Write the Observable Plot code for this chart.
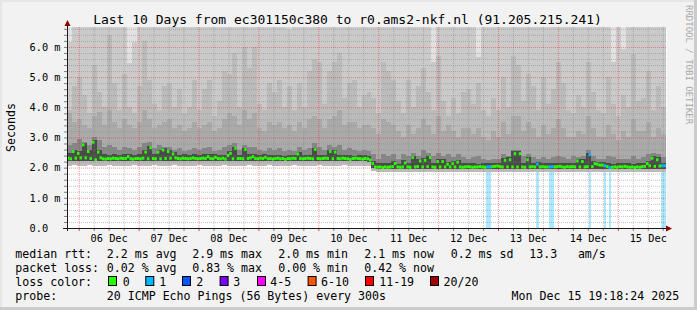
<!DOCTYPE html>
<html><head><meta charset="utf-8">
<script src="https://cdn.jsdelivr.net/npm/d3@7"></script>
<script src="https://cdn.jsdelivr.net/npm/@observablehq/plot@0.6"></script>
<style>
html,body{margin:0;padding:0;background:#f2f2f2;}
#wrap{position:relative;width:697px;height:310px;background:#f2f2f2;overflow:hidden;
 box-shadow: inset -3px -3px 0 #cbcbcb, inset 2px 2px 0 #e6e6e6;}
#wrap svg{position:absolute;left:0;top:0;}
</style></head><body><div id="wrap"></div>
<script>
// ---------- data ----------
const startTime = Date.UTC(2025, 11, 5, 19, 18, 24);   // left edge of the graph
const titleText = "Last 10 Days from ec301150c380 to r0.ams2-nkf.nl (91.205.215.241)";
// hourly median RTT (ms), 240 hours
const medianRtt = [
 2.33,2.31,2.55,2.33,2.49,2.34,2.77,2.34,2.55,2.32,
 2.86,2.28,2.53,2.34,2.31,2.30,2.32,2.31,2.33,2.32,
 2.31,2.33,2.32,2.32,2.38,2.31,2.30,2.32,2.32,2.31,
 2.33,2.53,2.31,2.68,2.32,2.31,2.53,2.31,2.60,2.32,
 2.55,2.33,2.47,2.34,2.32,2.31,2.33,2.32,2.31,2.32,
 2.34,2.32,2.31,2.32,2.33,2.32,2.38,2.32,2.31,2.36,
 2.32,2.31,2.33,2.30,2.42,2.49,2.31,2.66,2.32,2.32,
 2.31,2.62,2.32,2.34,2.38,2.32,2.31,2.33,2.32,2.36,
 2.31,2.32,2.30,2.32,2.33,2.31,2.32,2.29,2.32,2.31,
 2.33,2.32,2.47,2.32,2.31,2.32,2.33,2.32,2.31,2.62,
 2.32,2.31,2.32,2.33,2.32,2.55,2.31,2.53,2.32,2.31,
 2.33,2.32,2.31,2.29,2.32,2.33,2.32,2.31,2.30,2.32,
 2.31,2.27,2.15,2.04,2.03,2.04,2.02,2.04,2.03,2.04,
 2.05,2.15,2.04,2.03,2.04,2.17,2.04,2.03,2.35,2.04,
 2.05,2.24,2.04,2.26,2.05,2.35,2.04,2.03,2.22,2.04,
 2.22,2.04,2.13,2.04,2.15,2.04,2.20,2.04,2.03,2.04,
 2.05,2.04,2.03,2.04,2.04,2.05,2.04,2.03,2.04,2.04,
 2.05,2.06,2.07,2.05,2.04,2.26,2.04,2.28,2.04,2.48,
 2.04,2.48,2.04,2.03,2.28,2.04,2.05,2.04,2.13,2.04,
 2.05,2.04,2.04,2.04,2.05,2.04,2.05,2.06,2.04,2.03,
 2.05,2.04,2.05,2.04,2.24,2.04,2.22,2.04,2.05,2.45,
 2.05,2.15,2.13,2.10,2.10,2.08,2.05,2.02,2.03,2.04,
 2.03,2.05,2.04,2.06,2.04,2.03,2.04,2.02,2.04,2.03,
 2.05,2.06,2.15,2.08,2.33,2.06,2.28,2.07,2.08,2.08];
// hours with packet loss and number of lost pings
const lossHours  = [168,169,188,193,194,209,215,217,238,239];
const lossCounts = [1,1,1,1,1,1,1,1,1,1];
// smoke (2-hour columns, 120): ping distribution levels in ms
const smokeP95 = [
 6.16,7,7,7,7,7,7,7,7,7, 7,7,5.47,6.16,7,7,7,7,7,7, 7,7,7,7,7,7,7,7,7,7,
 7,7,7,7,7,7,7,7,7,7, 7,7,7,7,6.6,7,7,7,7,7, 7,7,7,7,7,7,7,7,7,7,
 7,7,7,7,7,7,7,7,7,7, 7,7,7,5.5,7,7,7,7,7,7, 7,7,5.68,7,7,7,7,7,7,7,
 7,7,7,7,7,7,7,7,7,7, 7,7,7,7,7,7,7,7,7,5.5, 7,5.93,7,7,7,7,7,7,7,7];
const smokeP90 = [
 3.9,4.7,5.0,4.4,3.8,5.4,4.5,4.0,6.4,4.8, 3.9,5.1,4.0,3.8,4.7,6.2,4.9,4.1,3.9,4.7,
 4.8,4.0,4.6,3.8,4.0,4.9,3.9,4.6,4.9,3.7, 4.2,5.2,5.1,5.8,4.0,6.0,5.3,6.0,4.1,3.9,
 4.8,4.5,4.9,4.0,4.7,3.9,4.8,4.0,5.2,5.6, 5.5,4.1,5.2,5.5,5.8,4.3,4.8,4.9,4.0,4.4,
 4.5,4.3,3.8,5.5,5.2,4.9,4.2,3.8,4.9,4.0, 4.7,5.3,4.5,3.9,5.7,4.2,3.7,4.3,3.8,4.5,
 4.6,4.1,4.8,3.9,3.7,4.3,3.9,5.0,4.0,5.7, 5.4,4.2,5.1,4.7,3.9,5.0,4.1,4.6,5.5,4.8,
 3.9,3.8,4.4,4.0,5.5,4.5,3.9,3.8,5.0,4.1, 3.7,4.4,4.0,5.75,4.2,4.3,5.2,3.9,4.7,4.0];
const smokeP75 = [
 3.8,3.5,3.6,3.4,3.3,3.7,3.85,3.4,3.9,3.5, 3.3,3.6,3.4,3.3,3.5,3.9,3.6,3.3,3.4,3.5,
 3.6,3.3,3.4,3.2,3.3,3.5,3.3,3.4,3.5,3.2, 3.3,3.6,3.8,3.7,3.4,3.9,3.6,3.8,3.3,3.2,
 3.5,3.4,3.5,3.3,3.4,3.2,3.5,3.3,3.6,3.7, 3.6,3.3,3.6,3.7,3.9,3.4,3.5,3.5,3.3,3.4,
 3.4,3.3,3.1,3.6,3.5,3.4,3.2,3.0,3.4,3.1, 3.3,3.6,3.4,3.1,3.7,3.2,3.4,3.2,3.0,3.3,
 3.3,3.1,3.3,3.0,2.9,3.2,3.0,3.5,3.1,3.7, 3.7,3.2,3.5,3.3,3.0,3.4,3.1,3.3,3.6,3.3,
 3.0,3.0,3.2,3.1,3.7,3.3,3.0,3.0,3.4,3.1, 2.9,3.2,3.0,3.6,3.2,3.2,3.5,3.0,3.3,3.1];
const smokeP65 = [
 2.75,2.8,2.95,2.85,2.75,3.0,2.9,2.7,2.75,2.7, 2.6,2.7,2.65,2.6,2.7,2.8,2.85,2.65,2.75,2.7,
 2.7,2.6,2.65,2.55,2.6,2.65,2.6,2.65,2.7,2.55, 2.6,2.7,2.75,2.8,2.6,2.75,2.7,2.7,2.6,2.55,
 2.65,2.6,2.65,2.55,2.6,2.55,2.7,2.6,2.65,2.8, 2.7,2.6,2.75,2.7,2.75,2.6,2.65,2.6,2.55,2.6,
 2.55,2.45,2.3,2.45,2.4,2.45,2.3,2.45,2.4,2.5, 2.4,2.6,2.5,2.4,2.5,2.4,2.45,2.35,2.45,2.35,
 2.3,2.35,2.4,2.3,2.25,2.3,2.3,2.45,2.4,2.6, 2.6,2.4,2.45,2.35,2.3,2.35,2.3,2.35,2.4,2.35,
 2.3,2.4,2.35,2.4,2.6,2.4,2.3,2.3,2.4,2.35, 2.3,2.3,2.3,2.4,2.3,2.35,2.45,2.5,2.45,2.35];
const smokeP55 = [
 2.48,2.60,2.55,2.80,2.60,2.90,2.58,2.45,2.42,2.44, 2.42,2.45,2.46,2.42,2.44,2.58,2.72,2.45,2.58,2.65,
 2.60,2.52,2.42,2.44,2.43,2.45,2.42,2.44,2.46,2.45, 2.43,2.42,2.54,2.70,2.43,2.66,2.44,2.46,2.43,2.45,
 2.42,2.41,2.43,2.40,2.42,2.43,2.52,2.42,2.41,2.66, 2.42,2.43,2.60,2.58,2.43,2.42,2.41,2.40,2.42,2.41,
 2.40,2.22,2.14,2.15,2.14,2.22,2.13,2.24,2.14,2.40, 2.30,2.32,2.40,2.15,2.28,2.28,2.20,2.22,2.26,2.14,
 2.15,2.14,2.13,2.15,2.14,2.16,2.17,2.32,2.34,2.54, 2.54,2.14,2.34,2.15,2.20,2.14,2.15,2.14,2.16,2.14,
 2.15,2.14,2.30,2.28,2.50,2.22,2.20,2.18,2.14,2.13, 2.14,2.15,2.14,2.13,2.14,2.15,2.22,2.40,2.34,2.16];
const smokeLow = [
 2.22,2.23,2.21,2.22,2.22,2.23,2.21,2.22,2.22,2.21, 2.22,2.22,2.23,2.21,2.22,2.22,2.21,2.22,2.23,2.22,
 2.21,2.22,2.22,2.22,2.21,2.22,2.23,2.22,2.21,2.22, 2.22,2.22,2.21,2.22,2.23,2.22,2.22,2.21,2.22,2.22,
 2.23,2.22,2.21,2.22,2.22,2.22,2.21,2.22,2.23,2.22, 2.22,2.21,2.22,2.22,2.23,2.22,2.21,2.22,2.22,2.21,
 2.20,2.00,1.95,1.96,1.95,1.94,1.96,1.95,1.95,1.96, 1.94,1.95,1.95,1.96,1.95,1.95,1.94,1.96,1.95,1.95,
 1.96,1.95,1.94,1.95,1.96,1.95,1.95,1.95,1.96,1.94, 1.95,1.95,1.96,1.95,1.94,1.95,1.95,1.96,1.95,1.95,
 1.94,1.96,1.95,1.95,1.96,1.95,1.94,1.95,1.95,1.96, 1.95,1.95,1.94,1.96,1.95,1.95,1.96,1.95,1.95,1.96];
const smokeMin = [
 2.07,2.08,2.06,2.07,2.08,2.07,2.06,2.07,2.08,2.07, 2.06,2.07,2.07,2.08,2.06,2.07,2.07,2.08,2.07,2.06,
 2.07,2.08,2.07,2.06,2.07,2.07,2.08,2.07,2.06,2.07, 2.07,2.08,2.07,2.06,2.07,2.07,2.08,2.07,2.06,2.07,
 2.08,2.07,2.06,2.07,2.07,2.08,2.07,2.06,2.07,2.07, 2.08,2.07,2.06,2.07,2.07,2.08,2.07,2.06,2.07,2.07,
 2.05,1.88,1.86,1.85,1.86,1.84,1.86,1.85,1.86,1.85, 1.84,1.86,1.85,1.86,1.85,1.84,1.86,1.85,1.86,1.85,
 1.84,1.86,1.85,1.86,1.85,1.84,1.86,1.85,1.86,1.85, 1.84,1.86,1.85,1.86,1.85,1.84,1.86,1.85,1.86,1.85,
 1.84,1.86,1.85,1.86,1.85,1.84,1.86,1.85,1.86,1.85, 1.84,1.86,1.85,1.86,1.85,1.84,1.86,1.85,1.86,1.85];
const yTicks = [0, 1, 2, 3, 4, 5, 6];
const yTickLabels = ["0.0\u00a0\u00a0", "1.0 m", "2.0 m", "3.0 m", "4.0 m", "5.0 m", "6.0 m"];
const dayLabels = ["06 Dec","07 Dec","08 Dec","09 Dec","10 Dec","11 Dec","12 Dec","13 Dec","14 Dec","15 Dec"];
const lossColorLabels = ["0","1","2","3","4-5","6-10","11-19","20/20"];
const lossColors = ["#26ff00","#00b8ff","#0059ff","#7e00ff","#ff00ff","#ff5500","#ff0000","#a10000"];
const rttStats  = ["2.2 ms avg","2.9 ms max","2.0 ms min","2.1 ms now","0.2 ms sd","13.3","am/s"];
const lossStats = ["0.02 % avg","0.83 % max","0.00 % min","0.42 % now"];
const probeText = "20 ICMP Echo Pings (56 Bytes) every 300s";
const stampText = "Mon Dec 15 19:18:24 2025";

// ---------- build ----------
const H = 3600e3;
const t = h => new Date(startTime + h * H);
const yTop = 6.66;
const lossIdx = n => n <= 0 ? 0 : n <= 3 ? n : n <= 5 ? 4 : n <= 10 ? 5 : n <= 19 ? 6 : 7;
const lossOf = j => { const k = lossHours.indexOf(j); return k < 0 ? 0 : lossCounts[k]; };

const medianRows = medianRtt.map((m, j) => ({x1: t(j), x2: t(j + 1), m, c: lossColors[lossIdx(lossOf(j))]}));
const smokeRows = smokeP65.map((_, c) => ({x1: t(2 * c), x2: t(2 * c + 2),
  min: smokeMin[c], low: smokeLow[c], p55: smokeP55[c], p65: smokeP65[c], p75: smokeP75[c], p90: smokeP90[c], p95: smokeP95[c]}));
const lossRows = lossHours.map((j, i) => ({x1: t(j), x2: t(j + 1), c: lossColors[lossIdx(lossCounts[i])]}));

const x0 = t(0), x1 = t(240);
const majorX = d3.utcDay.range(x0, x1);
const minorX = d3.utcHour.every(6).range(x0, x1).filter(d => d.getUTCHours() !== 0);
const noons = majorX.map(d => d3.utcHour.offset(d, 12)).filter(d => d < x1);
const noonLabel = new Map(noons.map((d, i) => [+d, dayLabels[i]]));
const minorY = d3.range(1, 34).map(i => Math.round(i * 2) / 10).filter(v => Math.abs(v - Math.round(v)) > 1e-6);
const allY = d3.range(0, 34).map(i => Math.round(i * 2) / 10);
const majorY = yTicks.filter(v => v > 0);

const band = (y1, y2, fill) => Plot.rect(smokeRows, {x1: "x1", x2: "x2", y1, y2, fill, clip: true, shapeRendering: "crispEdges"});

const chart = Plot.plot({
  width: 697, height: 245,
  marginLeft: 67, marginRight: 31, marginTop: 27, marginBottom: 17,
  style: {background: "transparent", fontFamily: "'DejaVu Sans Mono', monospace", fontSize: "10.3px", color: "#000", overflow: "visible"},
  x: {type: "utc", domain: [x0, x1], axis: null},
  y: {domain: [0, yTop], axis: null},
  color: {type: "identity"},
  marks: [
    Plot.frame({fill: "#ffffff", stroke: null}),
    Plot.rect(lossRows, {x1: "x1", x2: "x2", y1: () => 0, y2: () => yTop, fill: "c", fillOpacity: 0.32, shapeRendering: "crispEdges"}),
    band("min", () => yTop, "#e1e1e1"),
    band("min", "p95", "#cacaca"),
    band("min", "p90", "#bbbbbb"),
    band("low", "p75", "#aaaaaa"),
    band("low", "p65", "#868686"),
    band("low", "p55", "#4a4a4a"),
    Plot.ruleX(minorX, {stroke: "#7f7f7f", strokeOpacity: 0.45, strokeDasharray: "1,1"}),
    Plot.ruleY(minorY, {stroke: "#7f7f7f", strokeOpacity: 0.45, strokeDasharray: "1,1"}),
    Plot.ruleX(majorX, {stroke: "#ff0000", strokeOpacity: 0.4, strokeDasharray: "1,1"}),
    Plot.ruleY(majorY, {stroke: "#ff0000", strokeOpacity: 0.4, strokeDasharray: "1,1"}),
    Plot.ruleY(medianRows, {y: "m", x1: "x1", x2: "x2", stroke: "c", strokeWidth: 3}),
    Plot.axisY({ticks: allY, tickSize: 3, tickPadding: 4, stroke: "#808080",
      tickFormat: v => Math.abs(v - Math.round(v)) < 1e-6 ? yTickLabels[yTicks.indexOf(Math.round(v))] : "",
      label: null, fill: "#000", fontSize: "10.3px"}),
    Plot.axisX({ticks: minorX, tickSize: 3, tickFormat: () => "", stroke: "#808080", label: null}),
    Plot.axisX({ticks: majorX, tickSize: 3, tickFormat: () => "", stroke: "#e04040", label: null}),
    Plot.axisX({ticks: noons, tickSize: 0, tickPadding: 6, tickFormat: d => noonLabel.get(+d), label: null, fill: "#000", fontSize: "10.3px"})
  ]
});

const wrap = document.getElementById("wrap");
wrap.appendChild(chart);

// axis lines & arrows from the scales
const sx = chart.scale("x"), sy = chart.scale("y");
const X0 = sx.apply(x0), X1 = sx.apply(x1), Y0 = sy.apply(0), YT = sy.apply(yTop);
const s = d3.select(chart);
s.append("line").attr("x1", X0 - 4).attr("x2", X1 + 2).attr("y1", Y0 + 0.5).attr("y2", Y0 + 0.5).attr("stroke", "#1a1a1a");
s.append("line").attr("x1", X0 + 0.5).attr("x2", X0 + 0.5).attr("y1", Y0 + 3).attr("y2", YT - 1).attr("stroke", "#1a1a1a");
s.append("path").attr("d", `M${X1},${Y0 - 2.5}L${X1 + 6},${Y0 + 0.5}L${X1},${Y0 + 3.5}Z`).attr("fill", "#8b0000");
s.append("path").attr("d", `M${X0 - 2.5},${YT - 1}L${X0 + 0.5},${YT - 7}L${X0 + 3.5},${YT - 1}Z`).attr("fill", "#8b0000");

// texts (title, legend, labels)
const ov = d3.select(wrap).append("svg").attr("width", 697).attr("height", 310)
  .attr("font-family", "'DejaVu Sans Mono', monospace").style("pointer-events", "none");
ov.append("text").attr("x", 347.5).attr("y", 23.5).attr("text-anchor", "middle").attr("font-size", 13).attr("fill", "#000").text(titleText);
ov.append("text").attr("transform", "translate(15,127.5) rotate(-90)").attr("text-anchor", "middle")
  .attr("font-size", 11.6).attr("fill", "#000").text("Seconds");
ov.append("text").attr("transform", "translate(686,5) rotate(90)").attr("font-size", 9).attr("fill", "#a9a9a9").text("RRDTOOL / TOBI OETIKER");

const fs = 11.6;
const put = (x, y, str) => ov.append("text").attr("x", x).attr("y", y).attr("font-size", fs).attr("fill", "#000")
  .attr("xml:space", "preserve").text(str);
const rowY = [258.3, 272.3, 286.3, 300.3];
const colX = [106.8, 192.2, 278.2, 364.2, 450.7, 529.2, 577.9];
put(15.3, rowY[0], "median rtt:");
rttStats.forEach((str, i) => put(colX[i], rowY[0], str));
put(15.3, rowY[1], "packet loss:");
lossStats.forEach((str, i) => put(colX[i], rowY[1], str));
put(15.3, rowY[2], "loss color:");
const swX = [108, 145.3, 182, 219.6, 257, 307.6, 365, 430];
const lbX = [122.8, 159.2, 196.2, 233.2, 270.2, 321, 379.2, 443.6];
lossColorLabels.forEach((lab, i) => {
  ov.append("rect").attr("x", swX[i] + 0.5).attr("y", 276.5).attr("width", 8).attr("height", 9)
    .attr("fill", lossColors[i]).attr("stroke", "#000").attr("stroke-width", 1);
  put(lbX[i], rowY[2], lab);
});
put(15.3, rowY[3], "probe:");
put(106.8, rowY[3], probeText);
put(511.6, rowY[3], stampText);
</script></body></html>
